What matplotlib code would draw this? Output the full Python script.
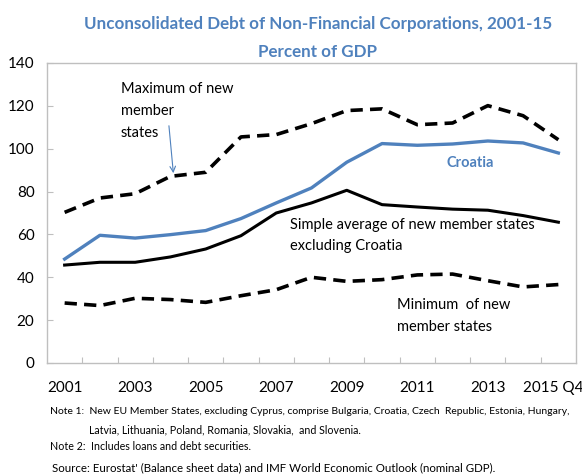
import matplotlib
matplotlib.use('Agg')
import matplotlib.pyplot as plt
import matplotlib.transforms as mtransforms
import numpy as np

# Lato is the closest narrow-ish sans available (reference uses Calibri)
plt.rcParams['font.family'] = ['Lato', 'DejaVu Sans']

years = ['2001', '2002', '2003', '2004', '2005', '2006', '2007', '2008',
         '2009', '2010', '2011', '2012', '2013', '2014', '2015 Q4']
croatia = [48.5, 59.6, 58.3, 59.9, 61.8, 67.4, 74.7, 81.7, 93.7, 102.4,
           101.6, 102.2, 103.6, 102.7, 98.0]
avg_nms = [45.7, 47.0, 47.0, 49.5, 53.2, 59.4, 70.0, 74.7, 80.6, 73.9,
           72.8, 71.8, 71.3, 68.8, 65.7]
max_nms = [70.3, 77.0, 79.0, 87.1, 89.0, 105.5, 106.6, 111.7, 117.8, 118.6,
           111.2, 112.0, 120.1, 115.4, 104.2]
min_nms = [28.0, 26.8, 30.2, 29.6, 28.3, 31.4, 34.2, 40.0, 38.1, 38.9,
           41.1, 41.5, 38.4, 35.5, 36.6]

blue = '#4F81BD'
grey = '#BFBFBF'
W, H = 582, 474

fig = plt.figure(figsize=(W / 100, H / 100), dpi=100)
ax = fig.add_axes([47 / W, 1 - 363 / H, 529 / W, 300 / H])

x = np.arange(len(years))
ax.plot(x, max_nms, color='black', linewidth=2.6, linestyle=(0, (3.4, 2.0)))
ax.plot(x, min_nms, color='black', linewidth=2.6, linestyle=(0, (3.4, 2.0)))
ax.plot(x, avg_nms, color='black', linewidth=2.2)
ax.plot(x, croatia, color=blue, linewidth=2.4)

ax.set_xlim(-0.5, len(years) - 0.5)
ax.set_ylim(0, 140)

# axes / ticks in Excel style
for s in ax.spines.values():
    s.set_color(grey)
    s.set_linewidth(1.0)
ax.set_yticks(np.arange(0, 141, 20))
ax.tick_params(axis='y', direction='in', length=4, color=grey, labelsize=11, pad=9)
ax.set_xticks(np.arange(0.5, len(years) - 1, 1.0))
ax.set_xticklabels([])
ax.tick_params(axis='x', which='major', direction='in', length=4, color=grey)

# category labels every second year (last one nudged left so it stays inside)
trans = mtransforms.blended_transform_factory(ax.transData, fig.transFigure)
for i in x[::2]:
    tr = trans
    if i == x[-1]:
        tr = trans + mtransforms.ScaledTranslation(-4 / 72, 0, fig.dpi_scale_trans)
    ax.text(i, 1 - 388 / H, years[i], transform=tr, fontsize=11,
            ha='center', va='center', clip_on=False)

# annotations (data coords)
ax.text(1.59, 117.6, 'Maximum of new\nmember\nstates', fontsize=10.5,
        va='center', ha='left', linespacing=1.75)
ax.annotate('', xy=(3.09, 87.3), xytext=(2.95, 112),
            arrowprops=dict(arrowstyle='->', color=blue, lw=0.8))
ax.text(11.5, 93.3, 'Croatia', fontsize=10.5, fontweight='bold', color=blue,
        ha='center', va='center')
ax.text(6.4, 59.5, 'Simple average of new member states\nexcluding Croatia',
        fontsize=10.5, ha='left', va='center', linespacing=1.68)
ax.text(9.43, 21.9, 'Minimum  of new\nmember states', fontsize=10.5,
        ha='left', va='center', linespacing=1.68)

# titles
t1 = fig.text(318 / W, 1 - 24 / H, 'Unconsolidated Debt of Non-Financial Corporations, 2001-15',
              fontsize=12, fontweight='bold', color=blue, ha='center', va='center')
t2 = fig.text(318 / W, 1 - 52 / H, 'Percent of GDP', fontsize=12, fontweight='bold',
              color=blue, ha='center', va='center')

# notes
n1 = fig.text(50 / W, 1 - 412 / H, 'Note 1:  New EU Member States, excluding Cyprus, comprise '
              'Bulgaria, Croatia, Czech  Republic, Estonia, Hungary,', fontsize=8, va='center')
n1b = fig.text(89 / W, 1 - 430 / H, 'Latvia, Lithuania, Poland, Romania, Slovakia,  and Slovenia.',
               fontsize=8, va='center')
n2 = fig.text(50 / W, 1 - 447 / H, 'Note 2:  Includes loans and debt securities.',
              fontsize=8, va='center')
n3 = fig.text(52 / W, 1 - 468 / H, "Source: Eurostat' (Balance sheet data) and IMF World "
              "Economic Outlook (nominal GDP).", fontsize=8, va='center')

# scale font sizes so widths roughly match the reference
renderer = fig.canvas.get_renderer()
for t, target in [(t1, 466), (n1, 522), (n1b, 274), (n2, 200), (n3, 446)]:
    w = t.get_window_extent(renderer).width
    t.set_fontsize(t.get_fontsize() * target / w)
t2.set_fontsize(t1.get_fontsize())

fig.savefig('out.png', dpi=100)
